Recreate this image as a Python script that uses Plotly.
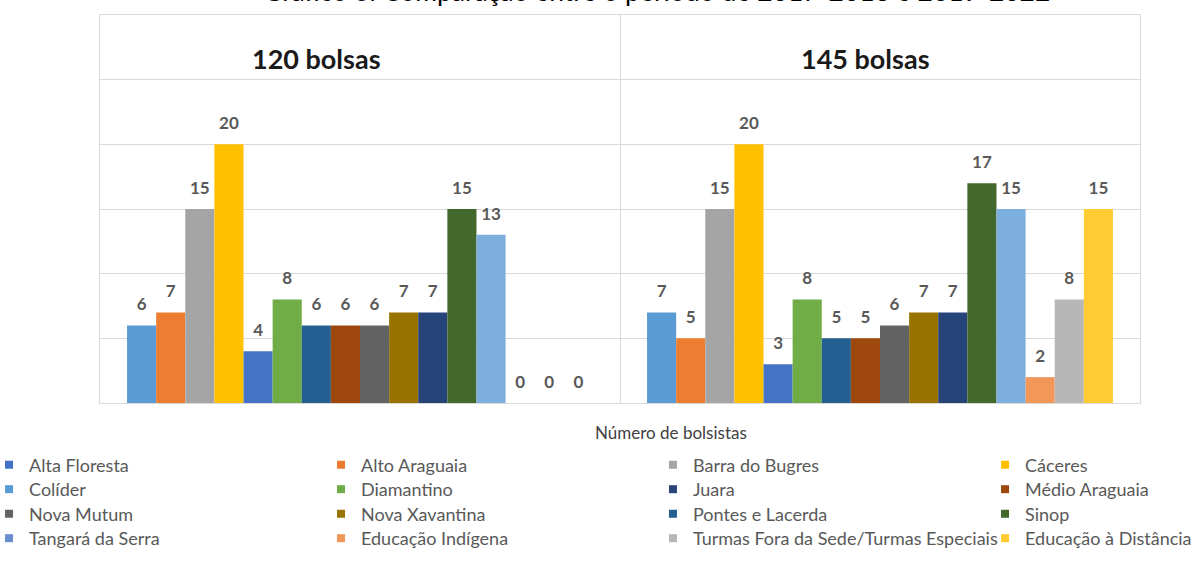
import plotly.graph_objects as go

# ---------------- data ----------------
categories = ["120 bolsas", "145 bolsas"]
campi = [
    "Alta Floresta", "Alto Araguaia", "Barra do Bugres", "Cáceres",
    "Colíder", "Diamantino", "Juara", "Médio Araguaia",
    "Nova Mutum", "Nova Xavantina", "Pontes e Lacerda", "Sinop",
    "Tangará da Serra", "Educação Indígena",
    "Turmas Fora da Sede/Turmas Especiais", "Educação à Distância",
]
bolsas_120 = [6, 7, 15, 20, 4, 8, 6, 6, 6, 7, 7, 15, 13, 0, 0, 0]
bolsas_145 = [7, 5, 15, 20, 3, 8, 5, 5, 6, 7, 7, 17, 15, 2, 8, 15]
title_text = "Gráfico 3: Comparação entre o período de 2017-2018 e 2019-2022"
axis_title_text = "Número de bolsistas"

# ---------------- styles ----------------
bar_colors = [
    "#5B9BD5", "#ED7D31", "#A5A5A5", "#FFC000",
    "#4472C4", "#70AD47", "#255E91", "#9E480E",
    "#636363", "#997300", "#264478", "#43682B",
    "#7CAFDD", "#F1975A", "#B7B7B7", "#FFCD33",
]
legend_colors = [
    "#4472C4", "#ED7D31", "#A5A5A5", "#FFC000",
    "#5B9BD5", "#70AD47", "#264478", "#9E480E",
    "#636363", "#997300", "#255E91", "#43682B",
    "#698ED0", "#F1975A", "#B7B7B7", "#FFCD33",
]
GRID = "#D9D9D9"
FONT = "Lato"
LABEL_GRAY = "#595959"
legend_col_x = [-0.1067, 0.2125, 0.5317, 0.8510]     # paper coords
legend_row_y = [-0.1598, -0.2229, -0.2861, -0.3492]  # paper coords
legend_ids = ["legend"] + ["legend%d" % (k + 1) for k in range(1, len(campi))]
cat_label_x = [0.2077, 0.7365]

fig = go.Figure()

# bars
for i, name in enumerate(campi):
    vals = [bolsas_120[i], bolsas_145[i]]
    fig.add_trace(go.Bar(
        x=categories, y=vals, name=name,
        marker=dict(color=bar_colors[i], line=dict(width=0)),
        showlegend=False, hoverinfo="skip",
    ))

# data labels (grouped scatter text aligned with bars)
for i, name in enumerate(campi):
    vals = [bolsas_120[i], bolsas_145[i]]
    fig.add_trace(go.Scatter(
        x=categories, y=vals, mode="markers+text", orientation="v",
        text=[str(v) for v in vals], textposition="top center",
        textfont=dict(family=FONT, size=17, color=LABEL_GRAY, weight="bold"),
        marker=dict(size=16, color="rgba(0,0,0,0)"),
        showlegend=False, hoverinfo="skip", cliponaxis=False,
    ))

# legend entries (separate overlay axes so they do not affect grouping)
for i, name in enumerate(campi):
    fig.add_trace(go.Scatter(
        x=[None], y=[None], mode="markers", name=name,
        marker=dict(symbol="square", size=8, color=legend_colors[i]),
        xaxis="x2", yaxis="y2", legend=legend_ids[i],
    ))

layout_legends = {}
for i, lid in enumerate(legend_ids):
    layout_legends[lid] = dict(
        orientation="v", xref="paper", yref="paper",
        x=legend_col_x[i % 4], y=legend_row_y[i // 4],
        xanchor="left", yanchor="middle",
        font=dict(family=FONT, size=18, color=LABEL_GRAY),
        bgcolor="rgba(0,0,0,0)", borderwidth=0,
    )

fig.update_layout(
    width=1197, height=581,
    margin=dict(l=100, r=57, t=15, b=178, autoexpand=False),
    paper_bgcolor="white", plot_bgcolor="white",
    barmode="group", bargap=0.104, bargroupgap=0,
    scattermode="group", scattergap=0.104,
    xaxis=dict(
        type="category", categoryorder="array", categoryarray=categories,
        range=[-0.5, 1.5], showticklabels=False, ticks="",
        tickson="boundaries", showgrid=True, gridcolor=GRID, gridwidth=1,
        showline=True, mirror=True, linecolor=GRID, linewidth=1, zeroline=False,
    ),
    yaxis=dict(
        range=[0, 30], dtick=5, tick0=0, showticklabels=False, ticks="",
        showgrid=True, gridcolor=GRID, gridwidth=1,
        showline=True, mirror=True, linecolor=GRID, linewidth=1, zeroline=False,
    ),
    xaxis2=dict(overlaying="x", visible=False, anchor="y2"),
    yaxis2=dict(overlaying="y", visible=False, anchor="x2"),
    showlegend=True,
    **layout_legends,
)

annotations = [
    dict(text=title_text, xref="paper", yref="paper", x=0.5351, y=1.0627,
         xanchor="center", yanchor="middle", showarrow=False,
         font=dict(family=FONT, size=26.5, color="#000000")),
    dict(text=axis_title_text, xref="paper", yref="paper", x=0.549, y=-0.0773,
         xanchor="center", yanchor="middle", showarrow=False,
         font=dict(family=FONT, size=17, color="#404040")),
]
for k, cat in enumerate(categories):
    annotations.append(dict(
        text=cat, xref="paper", yref="paper", x=cat_label_x[k], y=0.889,
        xanchor="center", yanchor="middle", showarrow=False,
        font=dict(family=FONT, size=27, color="#1A1A1A", weight="bold"),
    ))
fig.update_layout(annotations=annotations)

fig.write_html(
    "out.html",
    config={"displayModeBar": False},
    post_script="document.body.style.margin='0';",
)
